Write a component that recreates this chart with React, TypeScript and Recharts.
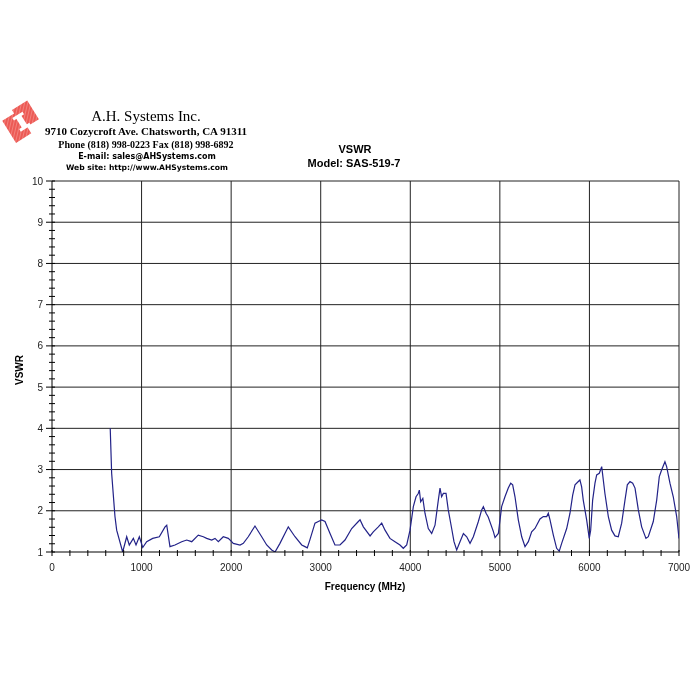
import React from "react"
import { LineChart, Line, XAxis, YAxis, ReferenceLine } from "recharts"

// Relevé VSWR, antenne SAS-519-7
const freqMHz = [
  650, 666, 703, 722, 789, 834, 863, 908, 938, 975, 1013, 1057, 1124, 1198, 1262, 1281, 1317, 1373,
  1448, 1504, 1560, 1633, 1689, 1727, 1783, 1820, 1857, 1912, 1968, 2006, 2024, 2099, 2136, 2191,
  2266, 2341, 2397, 2453, 2490, 2545, 2638, 2713, 2788, 2824, 2850, 2880, 2936, 2973, 3011, 3048,
  3104, 3159, 3215, 3271, 3346, 3420, 3439, 3476, 3551, 3587, 3643, 3681, 3718, 3773, 3829, 3885,
  3922, 3960, 3997, 4034, 4064, 4089, 4101, 4116, 4140, 4164, 4201, 4239, 4276, 4313, 4332, 4350,
  4369, 4399, 4424, 4462, 4488, 4518, 4555, 4593, 4630, 4667, 4704, 4760, 4797, 4816, 4846, 4870,
  4927, 4946, 4983, 5020, 5057, 5094, 5121, 5143, 5169, 5206, 5244, 5281, 5318, 5355, 5392, 5448,
  5485, 5523, 5541, 5560, 5597, 5634, 5663, 5690, 5746, 5783, 5813, 5839, 5876, 5894, 5913, 5931,
  5969, 5998, 6014, 6036, 6062, 6081, 6110, 6137, 6173, 6211, 6248, 6285, 6322, 6360, 6397, 6423,
  6453, 6483, 6509, 6546, 6583, 6631, 6657, 6713, 6751, 6780, 6806, 6843, 6862, 6899, 6936, 6974,
  7000,
]
const vswr = [
  4.0, 2.91, 1.86, 1.53, 1.0, 1.37, 1.17, 1.33, 1.17, 1.37, 1.11, 1.25, 1.33, 1.37, 1.61, 1.65, 1.13, 1.17,
  1.25, 1.29, 1.25, 1.41, 1.37, 1.33, 1.29, 1.33, 1.25, 1.37, 1.33, 1.25, 1.21, 1.17, 1.21, 1.37,
  1.63, 1.37, 1.17, 1.05, 1.0, 1.21, 1.61, 1.37, 1.17, 1.13, 1.1, 1.3, 1.7, 1.74, 1.78, 1.74,
  1.45, 1.17, 1.17, 1.29, 1.57, 1.74, 1.78, 1.61, 1.39, 1.49, 1.61, 1.7, 1.53, 1.33, 1.25, 1.17,
  1.09, 1.17, 1.53, 2.1, 2.34, 2.42, 2.5, 2.22, 2.3, 1.94, 1.57, 1.45, 1.65, 2.26, 2.55, 2.34,
  2.42, 2.42, 2.02, 1.57, 1.25, 1.05, 1.25, 1.45, 1.37, 1.21, 1.37, 1.74, 2.02, 2.1, 1.94, 1.85,
  1.5, 1.35, 1.45, 2.1, 2.34, 2.55, 2.67, 2.63, 2.34, 1.78, 1.37, 1.13, 1.25, 1.49, 1.57, 1.8,
  1.86, 1.86, 1.94, 1.78, 1.41, 1.09, 1.02, 1.21, 1.57, 1.94, 2.38, 2.63, 2.71, 2.75, 2.58, 2.26,
  1.78, 1.33, 1.53, 2.26, 2.67, 2.87, 2.91, 3.07, 2.42, 1.86, 1.53, 1.39, 1.37, 1.7, 2.26, 2.63,
  2.71, 2.67, 2.55, 2.02, 1.61, 1.33, 1.37, 1.74, 2.26, 2.83, 2.99, 3.19, 3.07, 2.67, 2.34, 1.86,
  1.33,
]

const xMajorTicks = [0, 1000, 2000, 3000, 4000, 5000, 6000, 7000]
const yMajorTicks = [1, 2, 3, 4, 5, 6, 7, 8, 9, 10]
const xMinorStep = 200
const yMinorStep = 0.2

const data = freqMHz.map((f, i) => ({ f, v: vswr[i] }))

// ticks mineurs entre les graduations principales
const xTicks: number[] = []
xMajorTicks.forEach((t, i) => {
  xTicks.push(t)
  const next = xMajorTicks[i + 1]
  if (next === undefined) return
  for (let k = t + xMinorStep; k < next - 1e-6; k += xMinorStep) xTicks.push(k)
})
const yTicks: number[] = []
yMajorTicks.forEach((t, i) => {
  yTicks.push(t)
  const next = yMajorTicks[i + 1]
  if (next === undefined) return
  for (let k = t + yMinorStep; k < next - 1e-6; k += yMinorStep) yTicks.push(Math.round(k * 10) / 10)
})

const isMajor = (v: number) => Math.abs(v - Math.round(v)) < 1e-6
const sans = "'Liberation Sans', Arial, sans-serif"
const serif = "'Liberation Serif', 'Times New Roman', serif"

function XTick({ x, y, payload }: any) {
  const v = payload.value
  const major = v % 1000 === 0
  return (
    <g>
      <line x1={x} x2={x} y1={y - 2} y2={y + 4} stroke="#000" />
      {major && (
        <text x={x} y={y + 19} textAnchor="middle" fontSize={10} fill="#222" fontFamily={sans}>
          {v}
        </text>
      )}
    </g>
  )
}

function YTick({ x, y, payload }: any) {
  const v = payload.value
  const major = isMajor(v)
  return (
    <g>
      <line x1={major ? x - 6 : x - 3} x2={x + 3} y1={y} y2={y} stroke="#000" />
      {major && (
        <text x={x - 9} y={y} dy="0.35em" textAnchor="end" fontSize={10} fill="#222" fontFamily={sans}>
          {v}
        </text>
      )}
    </g>
  )
}

function Logo() {
  return (
    <svg width={46} height={48} style={{ position: "absolute", left: 0, top: 98 }}>
      <defs>
        <pattern id="hatch" width="3" height="3" patternUnits="userSpaceOnUse" patternTransform="rotate(45)">
          <rect width="3" height="3" fill="#ec5a55" />
          <line x1="0" y1="0" x2="0" y2="3" stroke="#f8aaa5" strokeWidth="1" />
        </pattern>
      </defs>
      <g transform="rotate(-32 23 24)">
        <polygon points="6,12 20,12 20,8 38,8 38,30 24,30 24,38 6,38" fill="url(#hatch)" />
        <rect x="19" y="16" width="6" height="14" fill="#fff" />
        <rect x="16" y="15" width="12" height="3" fill="#fff" />
        <rect x="16" y="28" width="12" height="3" fill="#fff" />
      </g>
    </svg>
  )
}

function Centered({ x, top, size, bold, family, children }: any) {
  return (
    <div
      style={{
        position: "absolute",
        left: x - 150,
        top,
        width: 300,
        textAlign: "center",
        fontSize: size,
        lineHeight: 1,
        fontWeight: bold ? "bold" : "normal",
        fontFamily: family,
        color: "#000",
        whiteSpace: "nowrap",
      }}
    >
      {children}
    </div>
  )
}

export default function App() {
  return (
    <div style={{ position: "fixed", left: 0, top: 0, width: 700, height: 700, background: "#fff" }}>
      <Logo />
      <Centered x={146} top={109} size={15} family={serif}>A.H. Systems Inc.</Centered>
      <Centered x={146} top={126} size={11} bold family={serif}>9710 Cozycroft Ave. Chatsworth, CA 91311</Centered>
      <Centered x={146} top={140} size={10} bold family={serif}>Phone (818) 998-0223 Fax (818) 998-6892</Centered>
      <Centered x={147} top={153} size={8} bold family="'DejaVu Sans', Verdana, sans-serif">E-mail: sales@AHSystems.com</Centered>
      <Centered x={147} top={164} size={7.6} bold family="'DejaVu Sans', Verdana, sans-serif">Web site: http://www.AHSystems.com</Centered>
      <Centered x={355} top={144} size={11} bold family={sans}>VSWR</Centered>
      <Centered x={354} top={158} size={11} bold family={sans}>Model: SAS-519-7</Centered>

      <LineChart width={700} height={700} data={data} margin={{ top: 181, right: 21, bottom: 118, left: 12 }}>
        <XAxis
          type="number"
          dataKey="f"
          domain={[0, 7000]}
          ticks={xTicks}
          interval={0}
          tick={<XTick />}
          tickLine={false}
          tickSize={0}
          tickMargin={0}
          height={30}
          axisLine={{ stroke: "#000" }}
          allowDataOverflow
        />
        <YAxis
          type="number"
          domain={[1, 10]}
          ticks={yTicks}
          interval={0}
          tick={<YTick />}
          tickLine={false}
          tickSize={0}
          tickMargin={0}
          width={40}
          axisLine={{ stroke: "#000" }}
          allowDataOverflow
        />
        {xMajorTicks.slice(1).map((t) => (
          <ReferenceLine key={"x" + t} x={t} stroke="#222" strokeWidth={1} />
        ))}
        {yMajorTicks.slice(1).map((t) => (
          <ReferenceLine key={"y" + t} y={t} stroke="#222" strokeWidth={1} />
        ))}
        <Line
          type="linear"
          dataKey="v"
          stroke="#222288"
          strokeWidth={1.2}
          dot={false}
          isAnimationActive={false}
        />
      </LineChart>

      <div style={{ position: "absolute", left: 265, top: 582, width: 200, textAlign: "center", fontSize: 10, fontWeight: "bold", fontFamily: sans, lineHeight: 1 }}>
        Frequency (MHz)
      </div>
      <div
        style={{
          position: "absolute",
          left: 0,
          top: 365,
          width: 40,
          textAlign: "center",
          fontSize: 10,
          fontWeight: "bold",
          fontFamily: sans,
          lineHeight: 1,
          transform: "rotate(-90deg)",
        }}
      >
        VSWR
      </div>
    </div>
  )
}
